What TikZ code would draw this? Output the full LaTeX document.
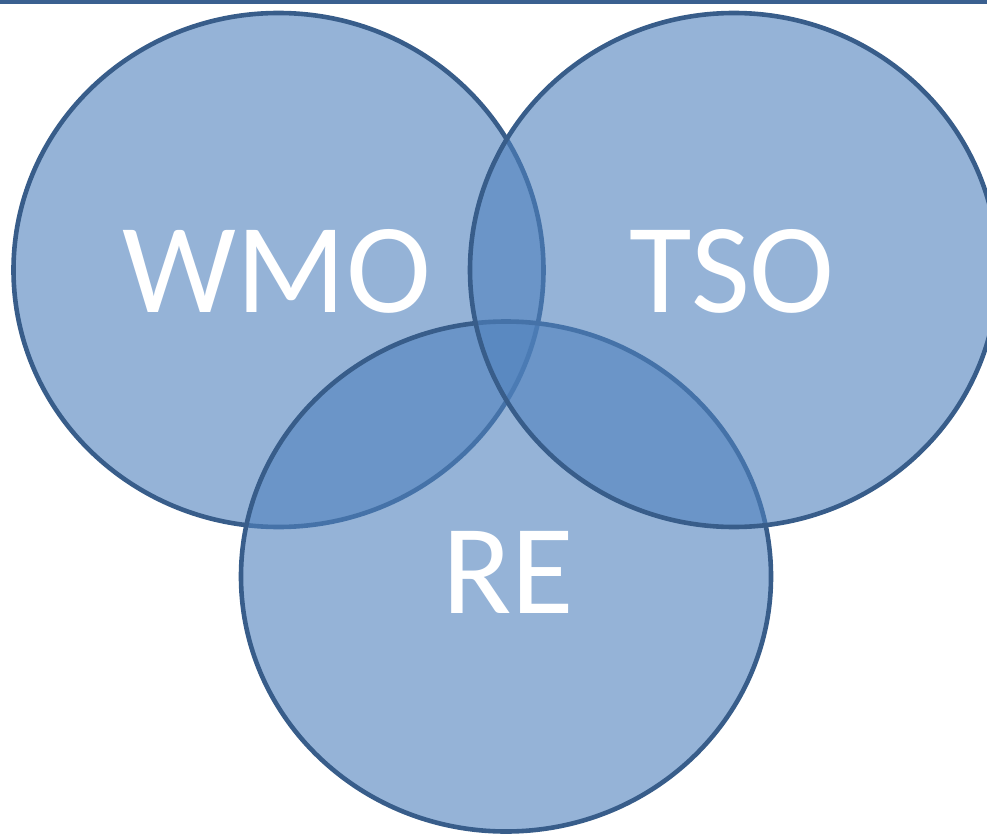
\documentclass[tikz,border=0pt]{standalone}
\usepackage{fontspec}
\setmainfont{Carlito}
\usetikzlibrary{shapes.geometric}
\definecolor{setfill}{HTML}{4F81BD}
\definecolor{setline}{HTML}{385D8A}
\definecolor{topbar}{HTML}{3A6090}
\tikzset{
  setshape/.style={ellipse, inner sep=0pt, draw=setline, line width=4.6pt,
    fill=setfill, fill opacity=0.6, draw opacity=1},
  setlabel/.style={text=white, anchor=base, inner sep=0pt,
    font=\fontsize{128}{150}\selectfont}
}
\begin{document}
\begin{tikzpicture}[x=1pt, y=-1pt]
  \useasboundingbox (0,0) rectangle (987,834);
  \clip (0,0) rectangle (987,834);
  \fill[topbar] (0,0) rectangle (987,4);
  % the three overlapping sets
  \node[setshape, minimum width=530pt, minimum height=514pt] (wmo) at (278.5,270) {};
  \node[setshape, minimum width=530pt, minimum height=510pt] (re) at (506,576.5) {};
  \node[setshape, minimum width=528pt, minimum height=514pt] (tso) at (734,270) {};
  % labels
  \node[setlabel] (lwmo) at (277,312) {WMO};
  \node[setlabel] (ltso) at (732,312) {TSO};
  \node[setlabel] (lre) at (508,613) {RE};
\end{tikzpicture}
\end{document}
